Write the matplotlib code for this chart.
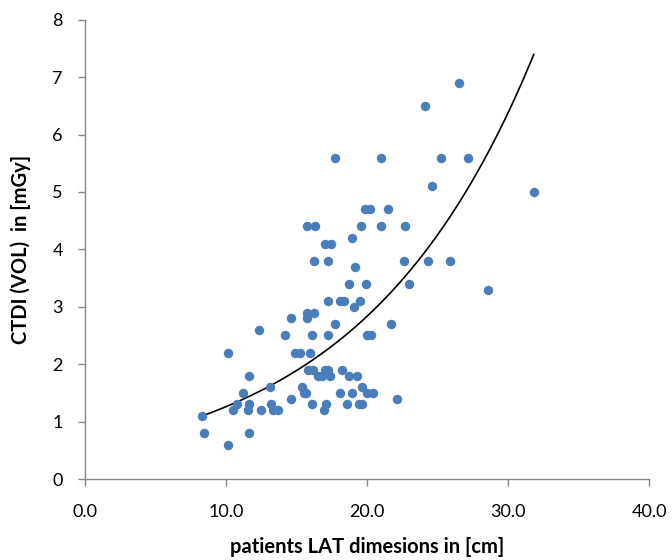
import numpy as np
import matplotlib
matplotlib.use('Agg')
import matplotlib.pyplot as plt
from matplotlib.ticker import FormatStrFormatter

plt.rcParams['font.family'] = ['Lato', 'DejaVu Sans']

# patient LAT dimension [cm] and CTDI(vol) [mGy]
lat_cm = [8.3, 8.45, 10.1, 10.15, 10.5, 10.75, 11.2, 11.65, 11.6, 11.55,
          11.65, 12.35, 12.45, 13.1, 13.15, 13.3, 13.7, 14.15, 14.6, 14.6,
          14.85, 15.25, 15.4, 15.5, 15.65, 15.75, 15.75, 16.2, 15.95, 15.8,
          16.15, 16.05, 16.05, 16.5, 16.8, 17.0, 17.25, 17.35, 17.05, 16.95,
          17.2, 17.75, 17.2, 18.05, 18.35, 19.05, 19.5, 18.2, 18.05, 18.55,
          18.7, 18.9, 19.3, 19.45, 19.65, 19.65, 20.0, 20.4, 19.95, 20.25,
          17.75, 21.0, 19.85, 20.2, 15.75, 16.3, 19.55, 20.95, 18.9, 17.0,
          17.4, 16.2, 17.2, 19.15, 18.7, 19.9, 26.5, 24.1, 25.2, 27.15,
          24.6, 31.8, 21.5, 22.65, 22.6, 24.3, 25.85, 22.95, 28.55, 21.7,
          22.1]
ctdi_mgy = [1.1, 0.8, 0.6, 2.2, 1.2, 1.3, 1.5, 1.8, 1.3, 1.2,
            0.8, 2.6, 1.2, 1.6, 1.3, 1.2, 1.2, 2.5, 2.8, 1.4,
            2.2, 2.2, 1.6, 1.5, 1.5, 2.8, 2.9, 2.9, 2.2, 1.9,
            1.9, 2.5, 1.3, 1.8, 1.8, 1.9, 1.9, 1.8, 1.3, 1.2,
            2.5, 2.7, 3.1, 3.1, 3.1, 3.0, 3.1, 1.9, 1.5, 1.3,
            1.8, 1.5, 1.8, 1.3, 1.3, 1.6, 1.5, 1.5, 2.5, 2.5,
            5.6, 5.6, 4.7, 4.7, 4.4, 4.4, 4.4, 4.4, 4.2, 4.1,
            4.1, 3.8, 3.8, 3.7, 3.4, 3.4, 6.9, 6.5, 5.6, 5.6,
            5.1, 5.0, 4.7, 4.4, 3.8, 3.8, 3.8, 3.4, 3.3, 2.7,
            1.4]

x = np.array(lat_cm)
y = np.array(ctdi_mgy)

# exponential trendline (same as Excel: linear fit on log y)
b, ln_a = np.polyfit(x, np.log(y), 1)
xs = np.linspace(x.min(), x.max(), 200)
ys = np.exp(ln_a) * np.exp(b * xs)

fig = plt.figure(figsize=(6.72, 5.6), dpi=100)
ax = fig.add_axes([0.1265, 0.1446, 0.84, 0.8202])

ax.plot(x, y, 'o', color='#4a7ebb', markersize=6.8, markeredgewidth=0, zorder=3)
ax.plot(xs, ys, color='black', linewidth=1.2, zorder=2)

ax.set_xlim(0, 40)
ax.set_ylim(0, 8)
ax.set_xticks([0, 10, 20, 30, 40])
ax.set_yticks(range(9))
ax.xaxis.set_major_formatter(FormatStrFormatter('%.1f'))

for side in ['top', 'right']:
    ax.spines[side].set_visible(False)
for side in ['left', 'bottom']:
    ax.spines[side].set_color('#868686')
    ax.spines[side].set_linewidth(1.0)
ax.tick_params(axis='both', direction='out', length=5, width=1.0,
               color='#868686', labelsize=13, labelcolor='black')
ax.tick_params(axis='x', pad=13)
ax.tick_params(axis='y', pad=11)

ax.set_xlabel('patients LAT dimesions in [cm]', fontsize=14.5, fontweight='bold', labelpad=12)
ax.set_ylabel('CTDI (VOL)  in [mGy]', fontsize=14.5, fontweight='bold', labelpad=15)

fig.savefig('out.png', dpi=100)
